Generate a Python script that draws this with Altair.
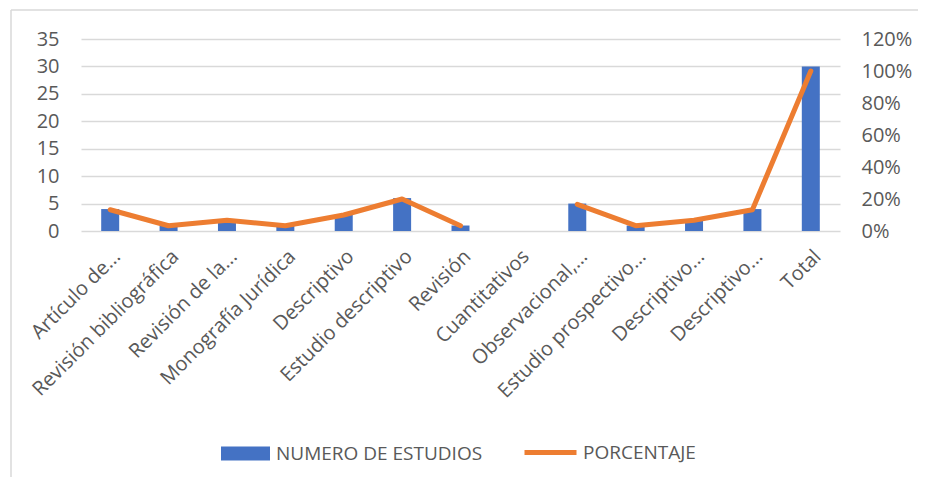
import altair as alt
import pandas as pd

categorias = [
    "Artículo de...",
    "Revisión bibliográfica",
    "Revisión de la...",
    "Monografía Jurídica",
    "Descriptivo",
    "Estudio descriptivo",
    "Revisión",
    "Cuantitativos",
    "Observacional,...",
    "Estudio prospectivo...",
    "Descriptivo...",
    "Descriptivo...",
    "Total",
]
# unique keys for the band scale (two categories share the same label text)
claves = [f"c{i:02d}" for i in range(len(categorias))]
numero_estudios = [4, 1, 2, 1, 3, 6, 1, None, 5, 1, 2, 4, 30]
porcentaje = [0.133, 0.033, 0.067, 0.033, 0.10, 0.20, 0.033, None, 0.167, 0.033, 0.067, 0.133, 1.00]
serie_barras = "NUMERO DE ESTUDIOS"
serie_linea = "PORCENTAJE"

df = pd.DataFrame({
    "clave": claves,
    "categoria": categorias,
    "numero": numero_estudios,
    "porcentaje": porcentaje,
    "sb": [serie_barras] * len(claves),
    "sl": [serie_linea] * len(claves),
})

label_map = "{" + ",".join(f"'{k}':'{c}'" for k, c in zip(claves, categorias)) + "}"

FONT = "Open Sans"
GRAY = "#595959"

x_enc = alt.X(
    "clave:N",
    scale=alt.Scale(domain=claves, paddingInner=0, paddingOuter=0),
    sort=None,
    axis=alt.Axis(
        title=None, labelAngle=-45, labelAlign="right", labelBaseline="top",
        labelPadding=15, ticks=False, domain=False, grid=False,
        labelExpr=f"{label_map}[datum.value]",
        labelFont=FONT, labelFontSize=20, labelColor=GRAY, labelOverlap=False,
        labelLimit=400,
    ),
)

bars = alt.Chart(df).mark_bar(size=18).encode(
    x=x_enc,
    y=alt.Y(
        "numero:Q",
        scale=alt.Scale(domain=[0, 35], nice=False),
        axis=alt.Axis(
            title=None, values=[0, 5, 10, 15, 20, 25, 30, 35], ticks=False,
            domain=False, grid=True, gridColor="#D9D9D9", gridWidth=1.3,
            labelFont=FONT, labelFontSize=20, labelColor=GRAY, labelPadding=22,
        ),
    ),
    fill=alt.Fill(
        "sb:N",
        scale=alt.Scale(domain=[serie_barras], range=["#4472C4"]),
        legend=alt.Legend(
            title=None, orient="none", legendX=140, legendY=390,
            symbolType="M-1,-0.29H1V0.29H-1Z", symbolSize=2401,
            symbolStrokeWidth=0, labelFont=FONT, labelFontSize=19,
            labelColor=GRAY, labelOffset=6, padding=0, labelLimit=400,
        ),
    ),
)

line = alt.Chart(df).mark_line(
    strokeWidth=5, strokeCap="round", strokeJoin="round",
    invalid="break-paths-filter-domains",
).encode(
    x=x_enc,
    y=alt.Y(
        "porcentaje:Q",
        scale=alt.Scale(domain=[0, 1.2], nice=False),
        axis=alt.Axis(
            title=None, orient="right", values=[0, 0.2, 0.4, 0.6, 0.8, 1.0, 1.2],
            format=".0%", ticks=False, domain=False, grid=False,
            labelFont=FONT, labelFontSize=20, labelColor=GRAY, labelPadding=21,
        ),
    ),
    stroke=alt.Stroke(
        "sl:N",
        scale=alt.Scale(domain=[serie_linea], range=["#ED7D31"]),
        legend=alt.Legend(
            title=None, orient="none", legendX=441, legendY=385,
            symbolType="stroke", symbolSize=2704, symbolStrokeWidth=5,
            labelFont=FONT, labelFontSize=19, labelColor=GRAY,
            labelOffset=4, padding=0, labelLimit=400,
        ),
    ),
)

borde = pd.DataFrame({"b": [0]})
borde_izq = alt.Chart(borde).mark_rule(color="#D9D9D9", strokeWidth=1.5).encode(
    x=alt.value(-70), y=alt.value(-29), y2=alt.value(460)
)
borde_sup = alt.Chart(borde).mark_rule(color="#D9D9D9", strokeWidth=1.5).encode(
    x=alt.value(-70), x2=alt.value(860), y=alt.value(-29)
)

chart = alt.layer(borde_izq, borde_sup, bars, line).resolve_scale(
    y="independent", fill="independent", stroke="independent"
).properties(
    width=759, height=192,
    padding={"left": 73, "top": 31, "right": 78, "bottom": 246},
    autosize="none",
).configure_view(stroke=None)

chart.save("out.html", embed_options={"renderer": "svg", "actions": False})
